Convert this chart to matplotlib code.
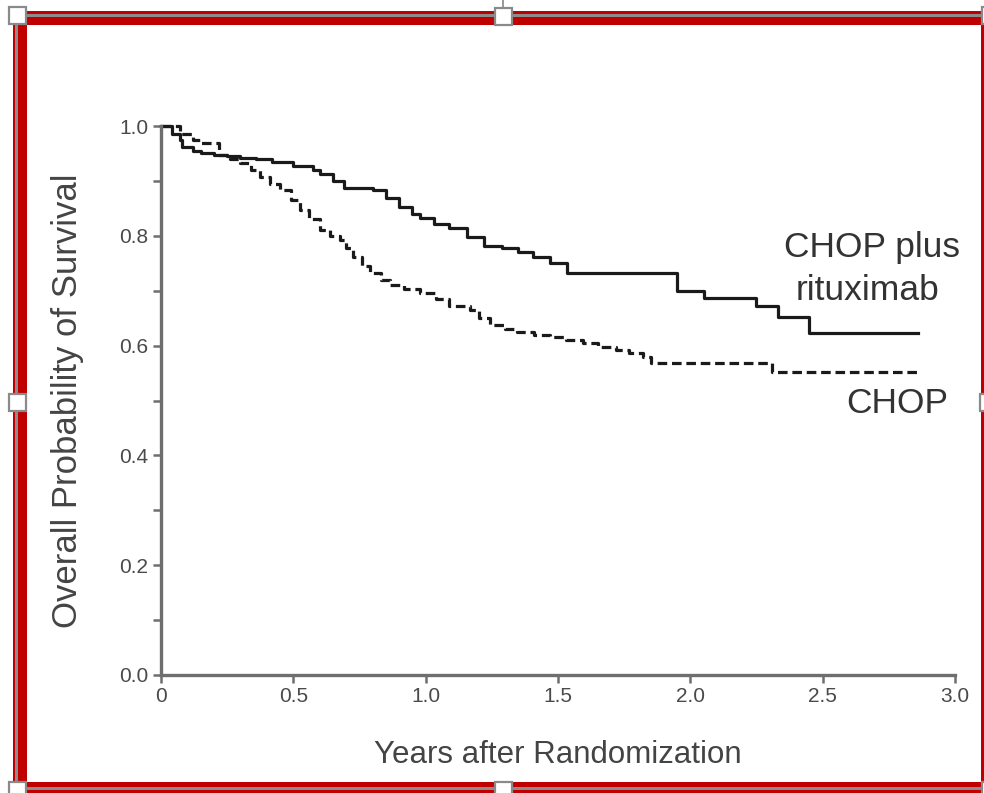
import matplotlib.pyplot as plt
from matplotlib.patches import Rectangle

plt.rcParams['font.family'] = ['Liberation Sans', 'DejaVu Sans']

# CHOP plus rituximab (solid)
rchop_t = [0, 0.04, 0.07, 0.08, 0.12, 0.15, 0.20, 0.25, 0.30, 0.36, 0.42,
           0.50, 0.575, 0.60, 0.65, 0.69, 0.80, 0.85, 0.90, 0.95, 0.98,
           1.03, 1.09, 1.155, 1.22, 1.29, 1.35, 1.405, 1.47, 1.534, 1.95,
           2.05, 2.25, 2.33, 2.45, 2.86]
rchop_s = [1.0, 0.985, 0.975, 0.962, 0.955, 0.95, 0.948, 0.945, 0.942,
           0.94, 0.934, 0.928, 0.92, 0.912, 0.90, 0.887, 0.883, 0.868, 0.852,
           0.84, 0.832, 0.822, 0.815, 0.798, 0.782, 0.777, 0.77, 0.762, 0.75,
           0.732, 0.70, 0.687, 0.672, 0.652, 0.623, 0.623]

# CHOP (dashed)
chop_t = [0, 0.07, 0.12, 0.15, 0.22, 0.26, 0.30, 0.34, 0.374, 0.41, 0.45,
          0.49, 0.525, 0.56, 0.60, 0.64, 0.676, 0.70, 0.725, 0.76, 0.79,
          0.83, 0.865, 0.92, 0.98, 1.04, 1.09, 1.167, 1.20, 1.243, 1.30,
          1.345, 1.41, 1.47, 1.53, 1.595, 1.65, 1.72, 1.77, 1.82, 1.85,
          2.31, 2.86]
chop_s = [1.0, 0.985, 0.975, 0.969, 0.947, 0.94, 0.933, 0.92, 0.907, 0.895,
          0.883, 0.865, 0.847, 0.83, 0.81, 0.80, 0.792, 0.778, 0.761, 0.745,
          0.732, 0.72, 0.71, 0.703, 0.696, 0.685, 0.672, 0.665, 0.65, 0.637,
          0.63, 0.625, 0.62, 0.616, 0.61, 0.605, 0.598, 0.592, 0.586, 0.58,
          0.568, 0.552, 0.552]

xticks = [0, 0.5, 1.0, 1.5, 2.0, 2.5, 3.0]
xlabels = ['0', '0.5', '1.0', '1.5', '2.0', '2.5', '3.0']
yticks = [0.0, 0.2, 0.4, 0.6, 0.8, 1.0]
ylabels = ['0.0', '0.2', '0.4', '0.6', '0.8', '1.0']

W, H = 984, 793
fig = plt.figure(figsize=(W / 100, H / 100), dpi=100)
fig.patch.set_facecolor('white')

ax = fig.add_axes([161 / W, 118 / H, 794 / W, 549 / H])
ax.plot(rchop_t, rchop_s, drawstyle='steps-post', color='#1a1a1a', lw=2.3,
        clip_on=False)
ax.plot(chop_t, chop_s, drawstyle='steps-post', color='#1a1a1a', lw=2.3,
        linestyle=(0, (3.0, 1.5)), clip_on=False)

ax.set_xlim(0, 3.0)
ax.set_ylim(0, 1.0)
ax.set_xticks(xticks)
ax.set_xticklabels(xlabels)
ax.set_yticks(yticks)
ax.set_yticklabels(ylabels)
ax.set_yticks([0.1, 0.3, 0.5, 0.7, 0.9], minor=True)

grey = '#6e6e6e'
for s in ['top', 'right']:
    ax.spines[s].set_visible(False)
for s in ['left', 'bottom']:
    ax.spines[s].set_color(grey)
    ax.spines[s].set_linewidth(2.4)
ax.tick_params(which='both', direction='out', color=grey, width=1.8,
               length=6, labelsize=15, labelcolor='#4a4a4a', pad=3)

ax.set_xlabel('Years after Randomization', fontsize=22.5, color='#444444')
ax.xaxis.set_label_coords(0.5, -0.118)
ax.set_ylabel('Overall Probability of Survival', fontsize=25, color='#444444')
ax.yaxis.set_label_coords(-0.097, 0.5)

ax.text(2.686, 0.778, 'CHOP plus', fontsize=25.5, color='#333333',
        ha='center', va='center')
ax.text(2.671, 0.701, 'rituximab', fontsize=25.5, color='#333333',
        ha='center', va='center')
ax.text(2.78, 0.495, 'CHOP', fontsize=25.5, color='#333333',
        ha='center', va='center')

# red selection frame with handles, in pixel coordinates
ov = fig.add_axes([0, 0, 1, 1], zorder=5)
ov.set_xlim(0, W)
ov.set_ylim(H, 0)
ov.axis('off')
ov.patch.set_alpha(0)

red = '#c00000'
band = '#8c8c8c'
ov.add_patch(Rectangle((13, 11), 972, 14, color=red, lw=0))
ov.add_patch(Rectangle((13, 14), 972, 2.5, color=band, lw=0))
ov.add_patch(Rectangle((13, 11), 14, 790, color=red, lw=0))
ov.add_patch(Rectangle((15, 11), 2.5, 790, color=band, lw=0))
ov.add_patch(Rectangle((13, 782), 972, 14, color=red, lw=0))
ov.add_patch(Rectangle((13, 787), 972, 2.5, color=band, lw=0))
ov.add_patch(Rectangle((981, 11), 4, 790, color=red, lw=0))

ov.plot([503, 503], [0, 7], color='#888888', lw=1.2)
for cx, cy in [(17, 15), (503, 16), (17, 402), (17, 790), (503, 790),
               (990, 15), (988, 402), (990, 790)]:
    ov.add_patch(Rectangle((cx - 8.5, cy - 8.5), 17, 17, facecolor='white',
                           edgecolor='#8a8a8a', lw=1.6))

fig.savefig('out.png', dpi=100)
